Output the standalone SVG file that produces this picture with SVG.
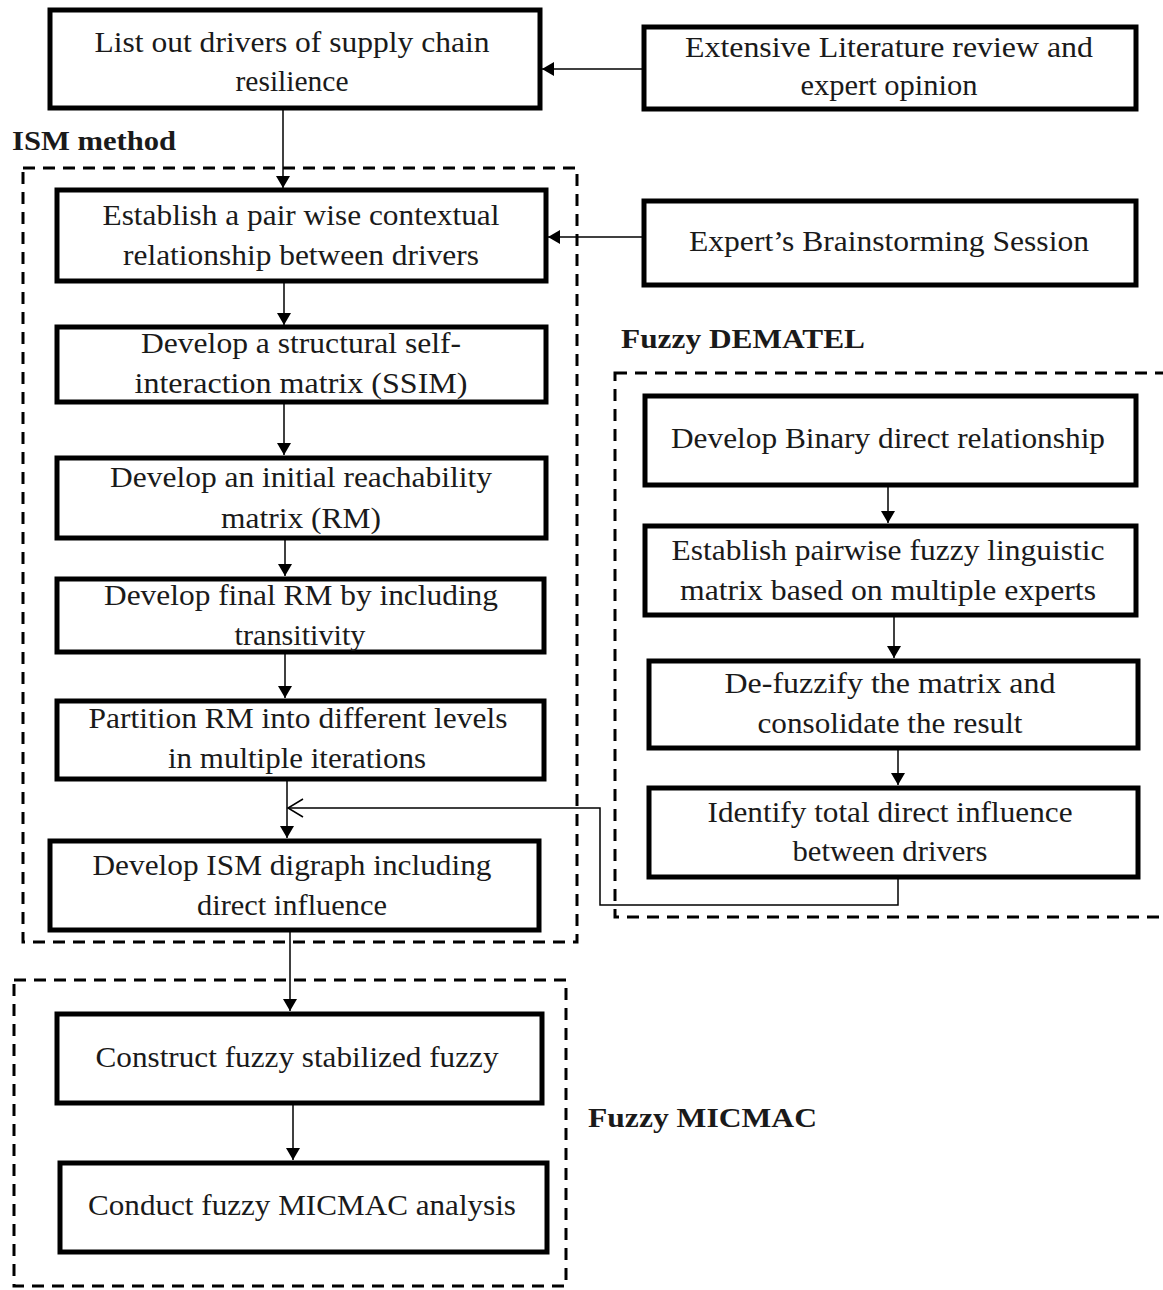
<svg xmlns="http://www.w3.org/2000/svg" width="1163" height="1290" viewBox="0 0 1163 1290">
<style>
  .node rect { fill: #ffffff; stroke: #000000; stroke-width: 5; }
  .node text, .lbl { font-family: "Liberation Serif", "Times New Roman", serif; font-size: 29px; fill: #1a1a1a; text-anchor: middle; }
  .lbl { font-weight: bold; text-anchor: start; font-size: 28px; }
  .group { fill: none; stroke: #000000; stroke-width: 3; stroke-dasharray: 12 8; }
  .conn { fill: none; stroke: #000000; stroke-width: 1.5; }
</style>
<defs>
  <marker id="arr" markerUnits="userSpaceOnUse" markerWidth="12" markerHeight="14" refX="12" refY="7" orient="auto">
    <path d="M0,0 L12,7 L0,14 z" fill="#000000"/>
  </marker>
  <marker id="open" markerUnits="userSpaceOnUse" markerWidth="18" markerHeight="22" refX="16" refY="10" orient="auto">
    <path d="M1,1 L16,10 L1,19" fill="none" stroke="#000000" stroke-width="1.5"/>
  </marker>
</defs>

<!-- group frames -->
<g id="frames">
  <rect class="group" x="23" y="168" width="554" height="774"/>
  <rect class="group" x="615" y="373" width="560" height="544"/>
  <rect class="group" x="14" y="980" width="552" height="306"/>
  <text class="lbl" x="12" y="150" textLength="164" lengthAdjust="spacingAndGlyphs">ISM method</text>
  <text class="lbl" x="621" y="348" textLength="244" lengthAdjust="spacingAndGlyphs">Fuzzy DEMATEL</text>
  <text class="lbl" x="588" y="1127" textLength="229" lengthAdjust="spacingAndGlyphs">Fuzzy MICMAC</text>
</g>

<!-- connectors -->
<g id="connectors">
  <line class="conn" x1="644" y1="69" x2="542" y2="69" marker-end="url(#arr)"/>
  <line class="conn" x1="644" y1="237" x2="548" y2="237" marker-end="url(#arr)"/>
  <line class="conn" x1="283" y1="108" x2="283" y2="188" marker-end="url(#arr)"/>
  <line class="conn" x1="284" y1="282" x2="284" y2="325" marker-end="url(#arr)"/>
  <line class="conn" x1="284" y1="402" x2="284" y2="455" marker-end="url(#arr)"/>
  <line class="conn" x1="285" y1="538" x2="285" y2="576" marker-end="url(#arr)"/>
  <line class="conn" x1="285" y1="638" x2="285" y2="698" marker-end="url(#arr)"/>
  <line class="conn" x1="287" y1="780" x2="287" y2="838" marker-end="url(#arr)"/>
  <polyline class="conn" points="898,877 898,905 600,905 600,808 288,808" marker-end="url(#open)"/>
  <line class="conn" x1="888" y1="485" x2="888" y2="523" marker-end="url(#arr)"/>
  <line class="conn" x1="894" y1="615" x2="894" y2="658" marker-end="url(#arr)"/>
  <line class="conn" x1="898" y1="748" x2="898" y2="785" marker-end="url(#arr)"/>
  <line class="conn" x1="290" y1="930" x2="290" y2="1011" marker-end="url(#arr)"/>
  <line class="conn" x1="293" y1="1103" x2="293" y2="1160" marker-end="url(#arr)"/>
</g>

<g id="n-list" class="node">
  <rect x="50" y="10" width="490" height="98"/>
  <text x="292" y="52" textLength="395" lengthAdjust="spacingAndGlyphs">List out drivers of supply chain</text>
  <text x="292" y="91" textLength="113" lengthAdjust="spacingAndGlyphs">resilience</text>
</g>
<g id="n-lit" class="node">
  <rect x="644" y="27" width="492" height="82"/>
  <text x="889" y="57" textLength="408" lengthAdjust="spacingAndGlyphs">Extensive Literature review and</text>
  <text x="889" y="95" textLength="177" lengthAdjust="spacingAndGlyphs">expert opinion</text>
</g>
<g id="n-pair" class="node">
  <rect x="57" y="190" width="489" height="91"/>
  <text x="301" y="225" textLength="397" lengthAdjust="spacingAndGlyphs">Establish a pair wise contextual</text>
  <text x="301" y="265" textLength="356" lengthAdjust="spacingAndGlyphs">relationship between drivers</text>
</g>
<g id="n-brain" class="node">
  <rect x="644" y="201" width="492" height="84"/>
  <text x="889" y="251" textLength="400" lengthAdjust="spacingAndGlyphs">Expert’s Brainstorming Session</text>
</g>
<g id="n-ssim" class="node">
  <rect x="57" y="327" width="489" height="75"/>
  <text x="301" y="353" textLength="320" lengthAdjust="spacingAndGlyphs">Develop a structural self-</text>
  <text x="301" y="393" textLength="333" lengthAdjust="spacingAndGlyphs">interaction matrix (SSIM)</text>
</g>
<g id="n-irm" class="node">
  <rect x="57" y="458" width="489" height="80"/>
  <text x="301" y="487" textLength="382" lengthAdjust="spacingAndGlyphs">Develop an initial reachability</text>
  <text x="301" y="528" textLength="160" lengthAdjust="spacingAndGlyphs">matrix (RM)</text>
</g>
<g id="n-frm" class="node">
  <rect x="57" y="579" width="487" height="73"/>
  <text x="301" y="605" textLength="394" lengthAdjust="spacingAndGlyphs">Develop final RM by including</text>
  <text x="300" y="645" textLength="131" lengthAdjust="spacingAndGlyphs">transitivity</text>
</g>
<g id="n-part" class="node">
  <rect x="57" y="701" width="487" height="78"/>
  <text x="298" y="728" textLength="419" lengthAdjust="spacingAndGlyphs">Partition RM into different levels</text>
  <text x="297" y="768" textLength="258" lengthAdjust="spacingAndGlyphs">in multiple iterations</text>
</g>
<g id="n-digraph" class="node">
  <rect x="50" y="841" width="489" height="89"/>
  <text x="292" y="875" textLength="399" lengthAdjust="spacingAndGlyphs">Develop ISM digraph including</text>
  <text x="292" y="915" textLength="190" lengthAdjust="spacingAndGlyphs">direct influence</text>
</g>
<g id="n-binary" class="node">
  <rect x="645" y="396" width="491" height="89"/>
  <text x="888" y="448" textLength="434" lengthAdjust="spacingAndGlyphs">Develop Binary direct relationship</text>
</g>
<g id="n-fuzzy" class="node">
  <rect x="645" y="526" width="491" height="89"/>
  <text x="888" y="560" textLength="433" lengthAdjust="spacingAndGlyphs">Establish pairwise fuzzy linguistic</text>
  <text x="888" y="600" textLength="416" lengthAdjust="spacingAndGlyphs">matrix based on multiple experts</text>
</g>
<g id="n-defuzz" class="node">
  <rect x="649" y="661" width="489" height="87"/>
  <text x="890" y="693" textLength="331" lengthAdjust="spacingAndGlyphs">De-fuzzify the matrix and</text>
  <text x="890" y="733" textLength="265" lengthAdjust="spacingAndGlyphs">consolidate the result</text>
</g>
<g id="n-total" class="node">
  <rect x="649" y="788" width="489" height="89"/>
  <text x="890" y="822" textLength="365" lengthAdjust="spacingAndGlyphs">Identify total direct influence</text>
  <text x="890" y="861" textLength="195" lengthAdjust="spacingAndGlyphs">between drivers</text>
</g>
<g id="n-construct" class="node">
  <rect x="57" y="1014" width="485" height="89"/>
  <text x="297" y="1067" textLength="403" lengthAdjust="spacingAndGlyphs">Construct fuzzy stabilized fuzzy</text>
</g>
<g id="n-micmac" class="node">
  <rect x="60" y="1163" width="487" height="89"/>
  <text x="302" y="1215" textLength="428" lengthAdjust="spacingAndGlyphs">Conduct fuzzy MICMAC analysis</text>
</g>
</svg>
